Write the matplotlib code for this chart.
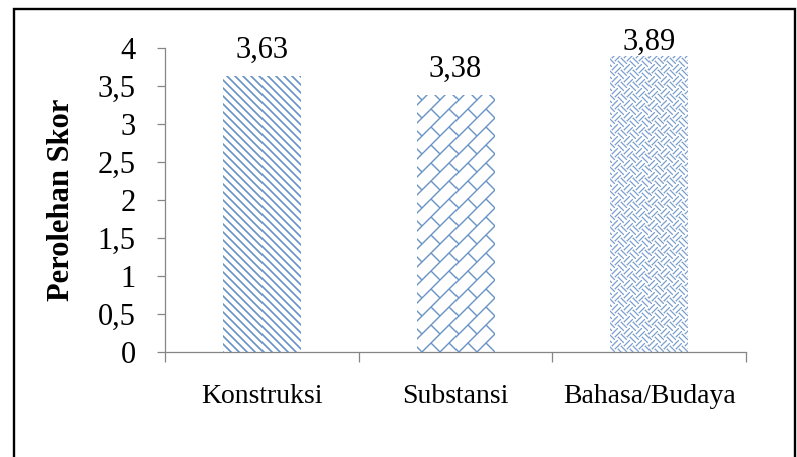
import numpy as np
import matplotlib
matplotlib.use("Agg")
import matplotlib.pyplot as plt
from matplotlib.patches import Rectangle
from matplotlib.ticker import FuncFormatter, FixedLocator

plt.rcParams["font.family"] = ["Liberation Serif", "DejaVu Serif"]

# ── Data ─────────────────────────────────────────────────────────────
categories = ["Konstruksi", "Substansi", "Bahasa/Budaya"]
scores = [3.63, 3.38, 3.89]
y_ticks = [0, 0.5, 1, 1.5, 2, 2.5, 3, 3.5, 4]

BLUE = np.array([0.31, 0.506, 0.741])
AXIS_GREY = "#868686"


# ── Fill patterns (Excel-like pattern fills) ─────────────────────────
def stripe(u, period, width):
    d = np.abs((u % period) - period / 2)
    return np.clip(width / 2 + 0.5 - d, 0, 1)


def pat_diag(c, r):
    return 0.85 * stripe(c - r, 8, 2.4)


def pat_brick(c, r):
    u, v = c + r, c - r
    long_lines = stripe(u, 18, 2.0)
    k = np.floor((u - 9) / 18).astype(int)
    short = stripe(v + (k % 2) * 18, 36, 2.0)
    return 0.85 * np.maximum(long_lines, short)


def pat_weave(c, r):
    u, v = c + r, c - r
    i = np.floor(u / 12).astype(int)
    j = np.floor(v / 12).astype(int)
    even = (i + j) % 2 == 0
    return 0.75 * np.where(even, stripe(u, 6, 1.8), stripe(v, 6, 1.8))


patterns = [pat_diag, pat_brick, pat_weave]

# ── Figure ───────────────────────────────────────────────────────────
W, H = 797, 457
fig = plt.figure(figsize=(W / 100, H / 100), dpi=100)
ax = fig.add_axes([165 / W, 105 / H, 581 / W, 304 / H])

x = np.arange(len(categories))
bars = ax.bar(x, scores, width=0.4, color="none", edgecolor="none", zorder=2)
ax.set_xlim(-0.5, len(categories) - 0.5)
ax.set_ylim(0, 4)

for bar, pat in zip(bars, patterns):
    x0, y0, w, h = bar.get_x(), bar.get_y(), bar.get_width(), bar.get_height()
    (px0, py0), (px1, py1) = ax.transData.transform([(x0, y0), (x0 + w, y0 + h)])
    nw, nh = int(round(px1 - px0)), int(round(py1 - py0))
    cc, rr = np.meshgrid(np.arange(nw), np.arange(nh))
    ink = pat(cc, rr)
    img = 1 - ink[..., None] * (1 - BLUE)
    ax.imshow(img, extent=(x0, x0 + w, y0, y0 + h), origin="upper",
              interpolation="nearest", aspect="auto", zorder=2)

ax.set_xlim(-0.5, len(categories) - 0.5)
ax.set_ylim(0, 4)

# value labels
for xi, v in zip(x, scores):
    ax.text(xi, min(v + 0.24, 3.97), f"{v:.2f}".replace(".", ","),
            ha="center", va="baseline", fontsize=22)

# axes styling
for s in ("top", "right"):
    ax.spines[s].set_visible(False)
for s in ("left", "bottom"):
    ax.spines[s].set_color(AXIS_GREY)
    ax.spines[s].set_linewidth(0.9)

ax.set_yticks(y_ticks)
ax.yaxis.set_major_formatter(FuncFormatter(lambda v, p: f"{v:g}".replace(".", ",")))
ax.tick_params(axis="y", direction="out", length=6, width=0.9, color=AXIS_GREY,
               labelsize=22, pad=15)

ax.set_xticks(x)
ax.set_xticklabels(categories)
ax.xaxis.set_minor_locator(FixedLocator(np.arange(-0.5, len(categories), 1.0)))
ax.tick_params(axis="x", which="major", length=0, labelsize=20, pad=23)
ax.tick_params(axis="x", which="minor", direction="out", length=7, width=0.9,
               color=AXIS_GREY)

ax.set_ylabel("Perolehan Skor", fontsize=22, fontweight="bold", va="center")
ax.yaxis.set_label_coords(-0.178, 0.5)

# outer frame
fig.patches.append(Rectangle((13.5 / W, -0.1), (795 - 13.5) / W, (H - 8.5) / H + 0.1,
                             transform=fig.transFigure, fill=False,
                             edgecolor="black", linewidth=1.7))

fig.savefig("out.png", dpi=100)
